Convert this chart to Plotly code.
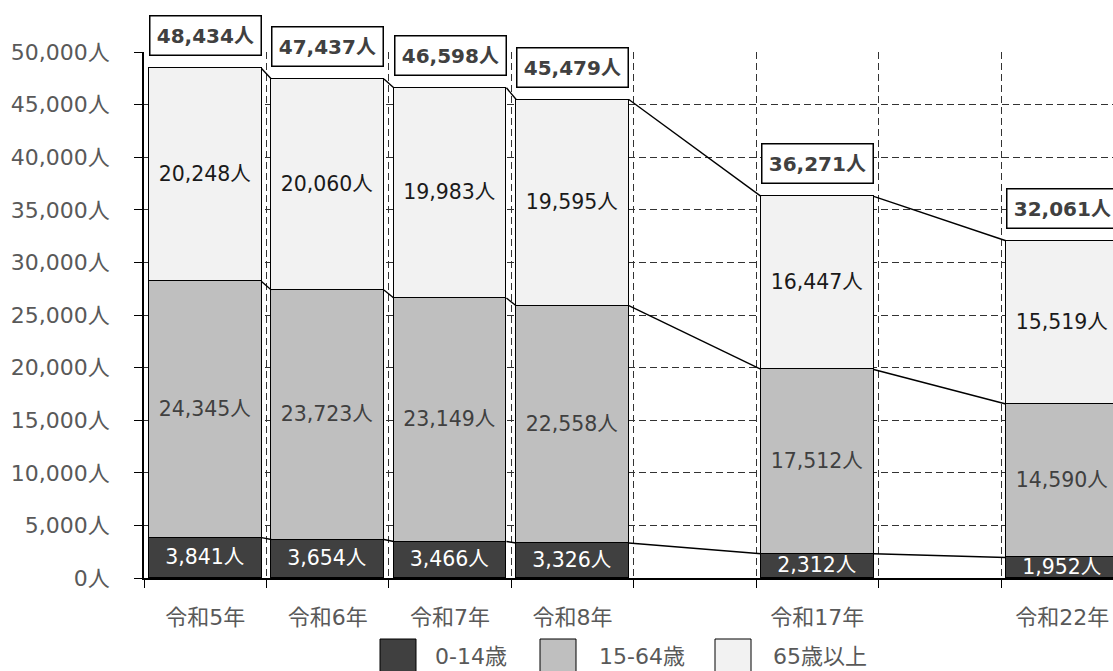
import plotly.graph_objects as go

# ---- data ----
slots = ["令和5年", "令和6年", "令和7年", "令和8年", "", "令和17年", "", "令和22年"]
years = ["令和5年", "令和6年", "令和7年", "令和8年", "令和17年", "令和22年"]
age_0_14 = [3841, 3654, 3466, 3326, 2312, 1952]
age_15_64 = [24345, 23723, 23149, 22558, 17512, 14590]
age_65_plus = [20248, 20060, 19983, 19595, 16447, 15519]
series_names = ["0-14歳", "15-64歳", "65歳以上"]
y_ticks = list(range(0, 50001, 5000))
y_tick_text = [f"{v:,}人" for v in y_ticks]

# ---- style ----
colors = ["#404040", "#bfbfbf", "#f2f2f2"]
text_colors = ["#ffffff", "#404040", "#1a1a1a"]
FONT = "DejaVu Sans, Noto Sans CJK JP, sans-serif"
W, H = 1113, 671
ML, MR, MT, MB = 144, 0, 52, 93
SLOT_PX = 122.43
BAR_W = 0.92

xpos = [slots.index(y) for y in years]
series = [age_0_14, age_15_64, age_65_plus]
totals = [a + b + c for a, b, c in zip(*series)]

fig = go.Figure()
for vals, name, col, tcol in zip(series, series_names, colors, text_colors):
    fig.add_trace(go.Bar(
        x=xpos, y=vals, name=name, width=BAR_W,
        marker=dict(color=col, line=dict(color="#000000", width=1.5)),
        texttemplate="%{y:,}人", textposition="inside", insidetextanchor="middle",
        textangle=0, constraintext="none",
        textfont=dict(family=FONT, size=20.5, color=tcol),
        showlegend=False, hoverinfo="skip",
    ))

# series lines connecting stack levels
levels = [age_0_14, [a + b for a, b in zip(age_0_14, age_15_64)], totals]
for lev in levels:
    lx, ly = [], []
    for i in range(len(xpos) - 1):
        lx += [xpos[i] + BAR_W / 2, xpos[i + 1] - BAR_W / 2, None]
        ly += [lev[i], lev[i + 1], None]
    fig.add_trace(go.Scatter(x=lx, y=ly, mode="lines",
                             line=dict(color="#000000", width=1.4),
                             showlegend=False, hoverinfo="skip"))

# total labels
bar_px = BAR_W * SLOT_PX
for x, t in zip(xpos, totals):
    fig.add_annotation(
        x=x, y=t, xref="x", yref="y", yanchor="bottom", yshift=12,
        text=f"<b>{t:,}人</b>", showarrow=False,
        font=dict(family=FONT, size=20, color="#404040"),
        bgcolor="#ffffff", bordercolor="#000000", borderwidth=1.5, borderpad=0,
        width=bar_px - 3, height=38, align="center", valign="middle",
    )

# manual legend
plot_w = W - ML - MR
plot_h = H - MT - MB
def px2x(px):
    return (px - ML) / plot_w
def py2y(py):
    return (H - MB - py) / plot_h

leg_sq_x = [380, 540, 715]
leg_tx_x = [433, 597, 771]
for name, col, sx, tx in zip(series_names, colors, leg_sq_x, leg_tx_x):
    fig.add_shape(type="rect", xref="paper", yref="paper",
                  x0=px2x(sx), x1=px2x(sx + 36), y0=py2y(675), y1=py2y(639),
                  fillcolor=col, line=dict(color="#000000", width=1))
    fig.add_annotation(x=px2x(tx), y=py2y(656), xref="paper", yref="paper",
                       xanchor="left", yanchor="middle", showarrow=False,
                       text=name, font=dict(family=FONT, size=22, color="#595959"))

grid_dash = "7px,4px"
fig.update_layout(
    width=W, height=H,
    margin=dict(l=ML, r=MR, t=MT, b=MB),
    paper_bgcolor="#ffffff", plot_bgcolor="#ffffff",
    barmode="stack", bargap=0,
    font=dict(family=FONT, color="#595959"),
    showlegend=False,
    xaxis=dict(
        range=[-0.5, -0.5 + plot_w / SLOT_PX],
        tickmode="array", tickvals=xpos, ticktext=years,
        ticks="", showgrid=False, zeroline=False,
        showline=True, linecolor="#000000", linewidth=1.5,
        tickfont=dict(family=FONT, size=22, color="#595959"),
        ticklabelstandoff=19,
        minor=dict(tickmode="array", tickvals=[i - 0.5 for i in range(len(slots) + 1)],
                   ticks="outside", ticklen=8, tickcolor="#000000", tickwidth=1,
                   showgrid=True, gridcolor="#333333", gridwidth=1, griddash=grid_dash),
    ),
    yaxis=dict(
        range=[0, 50000], tickmode="array", tickvals=y_ticks, ticktext=y_tick_text,
        ticks="outside", ticklen=8, tickcolor="#000000", tickwidth=1,
        showline=True, linecolor="#000000", linewidth=1.5,
        showgrid=True, gridcolor="#333333", gridwidth=1, griddash=grid_dash,
        zeroline=False,
        tickfont=dict(family=FONT, size=22, color="#595959"),
        ticklabelstandoff=20,
    ),
)

fig.write_html("out.html")
